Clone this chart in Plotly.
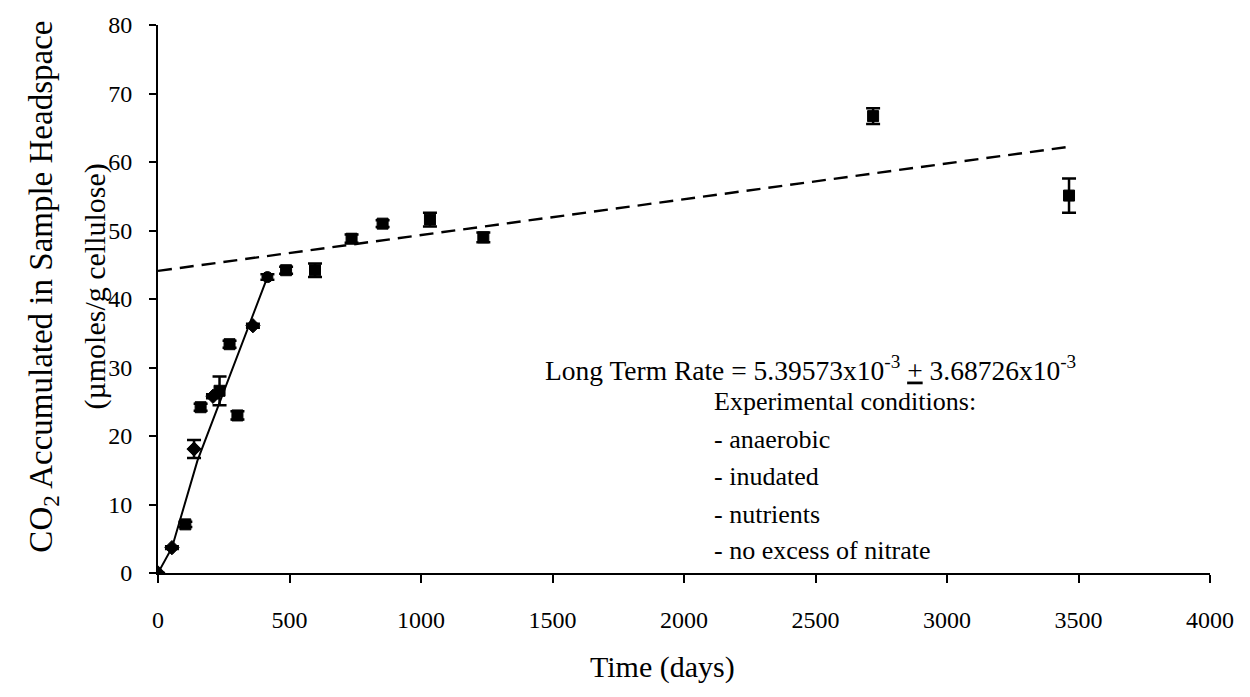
import plotly.graph_objects as go

# ---- data ----
days = [0, 53, 104, 137, 162, 209, 234, 272, 302, 361, 416,
        487, 597, 736, 854, 1034, 1237, 2719, 3464]
co2 = [0.0, 3.7, 7.1, 18.1, 24.2, 25.8, 26.6, 33.4, 23.0, 36.1, 43.2,
       44.2, 44.2, 48.8, 51.0, 51.6, 49.0, 66.7, 55.1]
err = [0.0, 0.2, 0.4, 1.3, 0.5, 0.3, 2.1, 0.5, 0.6, 0.3, 0.4,
       0.5, 1.0, 0.6, 0.5, 1.0, 0.7, 1.15, 2.5]
symbols = ["diamond", "diamond", "square", "diamond", "square", "diamond",
           "square", "square", "square", "diamond", "circle",
           "square", "square", "square", "square", "square", "square",
           "square", "square"]

# short-term (early) fit line vertices
fit_x = [0, 53, 150, 416]
fit_y = [0.0, 3.7, 16.4, 43.2]

# long-term linear fit (dashed)
lt_x = [0, 3460]
lt_y = [44.1, 62.2]

x_ticks = [0, 500, 1000, 1500, 2000, 2500, 3000, 3500, 4000]
y_ticks = [0, 10, 20, 30, 40, 50, 60, 70, 80]

rate_text = "Long Term Rate = 5.39573x10<sup>-3</sup> <u>+</u> 3.68726x10<sup>-3</sup>"
cond_lines = ["Experimental conditions:", "- anaerobic", "- inudated",
              "- nutrients", "- no excess of nitrate"]

FONT = "Liberation Serif, Times New Roman, serif"

fig = go.Figure()

fig.add_trace(go.Scatter(
    x=fit_x, y=fit_y, mode="lines",
    line=dict(color="black", width=2), showlegend=False, hoverinfo="skip"))

fig.add_trace(go.Scatter(
    x=lt_x, y=lt_y, mode="lines",
    line=dict(color="black", width=2.4, dash="14px,8px"), showlegend=False,
    hoverinfo="skip"))

fig.add_trace(go.Scatter(
    x=days, y=co2, mode="markers",
    marker=dict(symbol=symbols, size=11, color="black",
                line=dict(color="black", width=1)),
    error_y=dict(type="data", array=err, visible=True, color="black",
                 thickness=2.5, width=7),
    showlegend=False))

fig.update_xaxes(
    range=[0, 4000], tickvals=x_ticks, ticktext=[str(v) for v in x_ticks],
    showgrid=False, zeroline=False, showline=True, linecolor="black",
    linewidth=2, ticks="outside", ticklen=8, tickwidth=1.5, tickcolor="black",
    ticklabelstandoff=16,
    tickfont=dict(family=FONT, size=24, color="black"))

fig.update_yaxes(
    range=[0, 80], tickvals=y_ticks, ticktext=[str(v) for v in y_ticks],
    showgrid=False, zeroline=False, showline=True, linecolor="black",
    linewidth=2, ticks="outside", ticklen=7, tickwidth=1.5, tickcolor="black",
    ticklabelstandoff=12,
    tickfont=dict(family=FONT, size=24, color="black"))

ann_font = dict(family=FONT, size=26, color="black")
annotations = [
    dict(x=-0.1084, y=0.5225, xref="paper", yref="paper", xanchor="center",
         yanchor="middle", textangle=-90, showarrow=False,
         text="CO<sub>2</sub> Accumulated in Sample Headspace",
         font=dict(family=FONT, size=33, color="black")),
    dict(x=-0.060, y=0.5225, xref="paper", yref="paper", xanchor="center",
         yanchor="middle", textangle=-90, showarrow=False,
         text="(\u00b5moles/g cellulose)",
         font=dict(family=FONT, size=30, color="black")),
    dict(x=0.48, y=-0.171, xref="paper", yref="paper", xanchor="center",
         yanchor="middle", showarrow=False, text="Time (days)",
         font=dict(family=FONT, size=30, color="black")),
    dict(x=1464, y=29.8, xref="x", yref="y", xanchor="left", yanchor="middle",
         showarrow=False, font=dict(family=FONT, size=27.5, color="black"),
         text=rate_text),
]
cond_y = [25.1, 19.5, 14.1, 8.6, 3.3]
for t, yv in zip(cond_lines, cond_y):
    annotations.append(dict(x=2106, y=yv, xref="x", yref="y", xanchor="left",
                            yanchor="middle", showarrow=False, text=t,
                            font=ann_font))

fig.update_layout(
    width=1250, height=697,
    margin=dict(l=158, r=40, t=18, b=124),
    paper_bgcolor="white", plot_bgcolor="white",
    annotations=annotations)

fig.write_html("out.html")
